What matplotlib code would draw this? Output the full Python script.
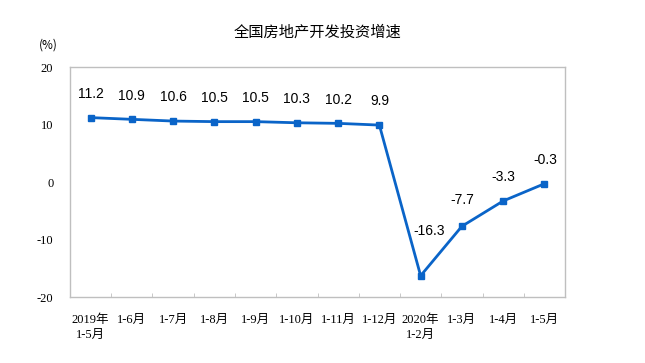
import matplotlib
matplotlib.use('Agg')
import matplotlib.pyplot as plt
import numpy as np

plt.rcParams['font.family'] = ['Liberation Serif', 'Noto Sans CJK SC', 'DejaVu Sans']

months = ['2019年\n1-5月', '1-6月', '1-7月', '1-8月', '1-9月', '1-10月', '1-11月',
          '1-12月', '2020年\n1-2月', '1-3月', '1-4月', '1-5月']
growth = [11.2, 10.9, 10.6, 10.5, 10.5, 10.3, 10.2, 9.9, -16.3, -7.7, -3.3, -0.3]

# label offsets in points (dx, dy)
offsets = [(0, 12)] * 8 + [(6, 27), (0, 14), (0, 12), (1, 12)]

blue = '#0A64C8'
gray = '#BFBFBF'

fig = plt.figure(figsize=(6.45, 3.63), dpi=100)
ax = fig.add_axes([0.1085, 0.1818, 0.7675, 0.6336])

x = np.arange(len(months))
ax.plot(x, growth, color=blue, linewidth=2, marker='s', markersize=5)

for xi, v, (dx, dy) in zip(x, growth, offsets):
    ax.annotate(f'{v:.1f}', (xi, v), xytext=(dx, dy), textcoords='offset points',
                ha='center', va='bottom', fontsize=10,
                family=['Liberation Sans', 'DejaVu Sans'])

ax.set_xlim(-0.5, len(months) - 0.5)
ax.set_ylim(-20, 20)
ax.set_yticks([-20, -10, 0, 10, 20])
ax.set_yticklabels(['-20', '-10', '0', '10', '20'], fontsize=9)
ax.tick_params(axis='y', length=0, pad=12)

ax.set_xticks(x)
ax.set_xticklabels(months, fontsize=9, linespacing=1.4, va='top')
ax.tick_params(axis='x', which='major', length=0, pad=12)
ax.set_xticks(np.arange(0.5, len(months) - 0.5), minor=True)
ax.tick_params(axis='x', which='minor', direction='in', length=3, color=gray)

for s in ax.spines.values():
    s.set_color(gray)
    s.set_linewidth(1)

fig.text(0.493, 0.912, '全国房地产开发投资增速', ha='center', va='center',
         fontsize=11, family=['Noto Sans CJK SC'])
fig.text(0.075, 0.875, '(%)', ha='center', va='center', fontsize=8.5,
         family=['Noto Sans CJK SC', 'DejaVu Sans'])

fig.savefig('out.png', dpi=100)
